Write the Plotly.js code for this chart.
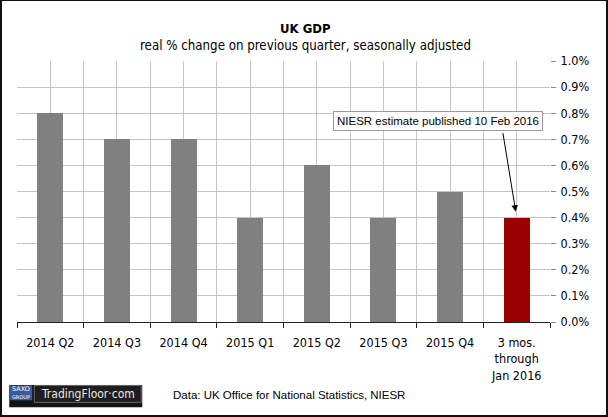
<!DOCTYPE html>
<html>
<head>
<meta charset="utf-8">
<script src="https://cdn.plot.ly/plotly-3.0.1.min.js"></script>
<style>
  html, body { margin: 0; padding: 0; background: #fff; }
  #wrap { position: relative; width: 608px; height: 417px; }
  #chart { position: absolute; left: 0; top: 0; width: 608px; height: 417px; }
  #frame { position: absolute; left: 0; top: 0; width: 604px; height: 414px;
           border-left: 2px solid #111; border-right: 2px solid #111;
           border-top: 1px solid #111; border-bottom: 2px solid #111; pointer-events: none; }
</style>
</head>
<body>
<div id="wrap">
  <div id="chart"></div>
  <div id="frame"></div>
</div>
<script>
// ---- data ----
const categories = ["2014 Q2", "2014 Q3", "2014 Q4", "2015 Q1", "2015 Q2", "2015 Q3", "2015 Q4", "3 mos.<br>through<br>Jan 2016"];
const gdpChange = [0.8, 0.7, 0.7, 0.4, 0.6, 0.4, 0.5, 0.4];
const barColors = ["#808080", "#808080", "#808080", "#808080", "#808080", "#808080", "#808080", "#990000"];
const yTickVals = [0, 0.1, 0.2, 0.3, 0.4, 0.5, 0.6, 0.7, 0.8, 0.9, 1.0];
const yTickText = ["0.0%", "0.1%", "0.2%", "0.3%", "0.4%", "0.5%", "0.6%", "0.7%", "0.8%", "0.9%", "1.0%"];
const calloutText = "NIESR estimate published 10 Feb 2016";
const sourceText = "Data: UK Office for National Statistics, NIESR";

const xPos = categories.map((_, i) => i);
const lastIdx = categories.length - 1;

const mainFont = "'DejaVu Sans Condensed', 'DejaVu Sans', sans-serif";

const trace = {
  type: "bar",
  x: xPos,
  y: gdpChange,
  width: 0.39,
  marker: { color: barColors, line: { width: 0 } },
  hoverinfo: "skip"
};

const layout = {
  width: 608,
  height: 417,
  margin: { l: 17, r: 58, t: 61, b: 95 },
  paper_bgcolor: "#ffffff",
  plot_bgcolor: "#ffffff",
  showlegend: false,
  bargap: 0,
  font: { family: mainFont, size: 12, color: "#000" },
  xaxis: {
    range: [-0.5, categories.length - 0.5],
    tickmode: "array",
    tickvals: xPos,
    ticktext: categories,
    ticks: "",
    showgrid: true,
    gridcolor: "#c4c4c4",
    gridwidth: 1,
    zeroline: false,
    showline: true,
    linecolor: "#222",
    linewidth: 1,
    tickfont: { family: mainFont, size: 12.5, color: "#000" },
    ticklabelstandoff: 9,
    minor: {
      tickmode: "linear",
      tick0: -0.5,
      dtick: 1,
      ticks: "outside",
      ticklen: 5,
      tickcolor: "#222",
      tickwidth: 1,
      showgrid: true,
      gridcolor: "#c4c4c4",
      gridwidth: 1
    },
    fixedrange: true
  },
  yaxis: {
    side: "right",
    range: [0, 1.0],
    tickmode: "array",
    tickvals: yTickVals,
    ticktext: yTickText,
    ticks: "outside",
    ticklen: 5,
    tickcolor: "#888",
    showgrid: true,
    gridcolor: "#c4c4c4",
    gridwidth: 1,
    zeroline: false,
    showline: false,
    tickfont: { family: mainFont, size: 12.5, color: "#000" },
    ticklabelstandoff: 2,
    fixedrange: true
  },
  shapes: [
    { type: "rect", xref: "paper", yref: "paper", layer: "above",
      x0: -0.0145, x1: 0.235, y0: -0.327, y1: -0.241,
      fillcolor: "#141414", line: { width: 0 } },
    { type: "rect", xref: "paper", yref: "paper", layer: "above",
      x0: -0.0135, x1: 0.0285, y0: -0.300, y1: -0.243,
      fillcolor: "#3b5a9a", line: { width: 0 } },
    { type: "rect", xref: "paper", yref: "paper", layer: "above",
      x0: 0.0325, x1: 0.233, y0: -0.308, y1: -0.243,
      fillcolor: "#1e1e1e", line: { color: "#6a6a6a", width: 1 } }
  ],
  annotations: [
    { text: "<b>UK GDP</b>", xref: "paper", yref: "paper", x: 0.5406, y: 1.125,
      xanchor: "center", yanchor: "middle", showarrow: false,
      font: { family: mainFont, size: 13, color: "#000" } },
    { text: "real % change on previous quarter, seasonally adjusted", xref: "paper", yref: "paper",
      x: 0.5406, y: 1.058, xanchor: "center", yanchor: "middle", showarrow: false,
      font: { family: mainFont, size: 13.2, color: "#000" } },
    { text: "", x: lastIdx, y: gdpChange[lastIdx], xref: "x", yref: "y",
      showarrow: true, axref: "pixel", ayref: "pixel", ax: -14, ay: -86,
      arrowhead: 2, arrowsize: 1.3, arrowwidth: 1, arrowcolor: "#000", standoff: 6 },
    { text: calloutText, xref: "x", yref: "y", x: 5.82, y: 0.772,
      xanchor: "center", yanchor: "middle", showarrow: false,
      bgcolor: "#ffffff", bordercolor: "#9a9a9a", borderwidth: 1, borderpad: 3,
      font: { family: "'Liberation Sans', Arial, sans-serif", size: 11.5, color: "#000" } },
    { text: "SAXO", xref: "paper", yref: "paper", x: 0.0075, y: -0.257,
      xanchor: "center", yanchor: "middle", showarrow: false,
      font: { family: "'DejaVu Sans', sans-serif", size: 6.5, color: "#ffffff" } },
    { text: "GROUP", xref: "paper", yref: "paper", x: 0.0075, y: -0.287,
      xanchor: "center", yanchor: "middle", showarrow: false,
      font: { family: "'DejaVu Sans', sans-serif", size: 5, color: "#ffffff" } },
    { text: "TradingFloor·com", xref: "paper", yref: "paper", x: 0.1325, y: -0.276,
      xanchor: "center", yanchor: "middle", showarrow: false,
      font: { family: mainFont, size: 12, color: "#e8e8e8" } },
    { text: sourceText, xref: "paper", yref: "paper", x: 0.288, y: -0.278,
      xanchor: "left", yanchor: "middle", showarrow: false,
      font: { family: "'Liberation Sans', Arial, sans-serif", size: 11.5, color: "#000" } }
  ]
};

Plotly.newPlot("chart", [trace], layout, { displayModeBar: false, staticPlot: true });
</script>
</body>
</html>
